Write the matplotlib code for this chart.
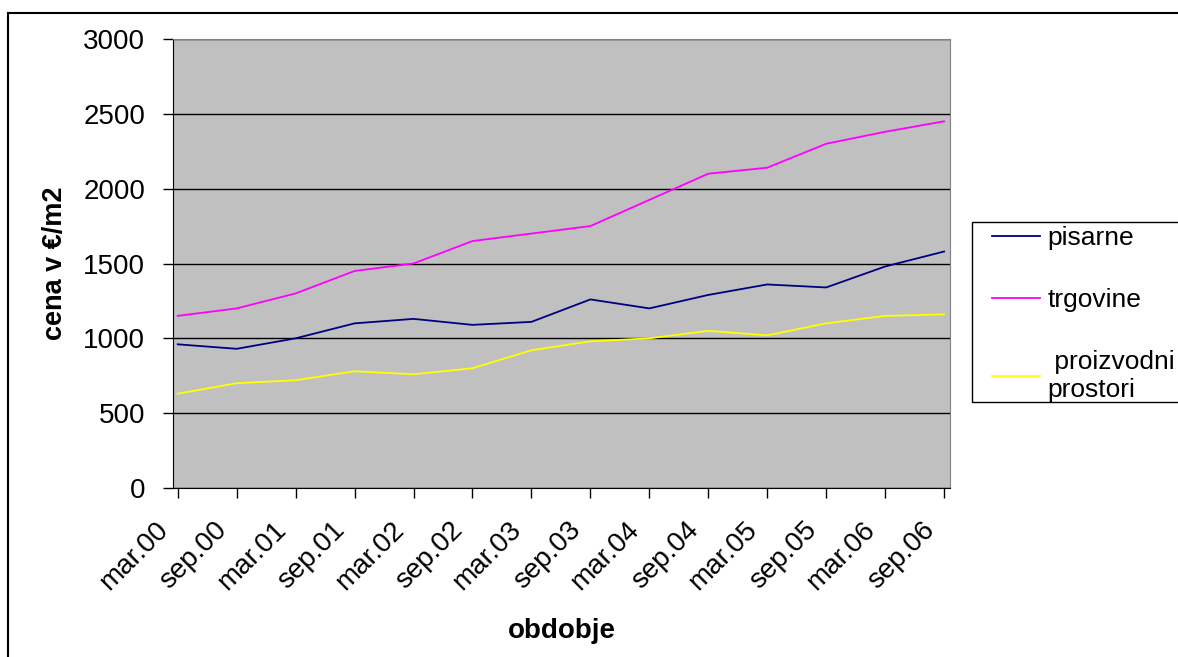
import matplotlib.pyplot as plt
import matplotlib.transforms as mtransforms
from matplotlib.lines import Line2D
from matplotlib.patches import Rectangle

periods = ['mar.00', 'sep.00', 'mar.01', 'sep.01', 'mar.02', 'sep.02', 'mar.03',
           'sep.03', 'mar.04', 'sep.04', 'mar.05', 'sep.05', 'mar.06', 'sep.06']
pisarne = [960, 930, 1000, 1100, 1130, 1090, 1110,
           1260, 1200, 1290, 1360, 1340, 1480, 1580]
trgovine = [1150, 1200, 1300, 1450, 1500, 1650, 1700,
            1750, 1925, 2100, 2140, 2300, 2380, 2450]
proizvodni = [630, 700, 720, 780, 760, 800, 920,
              980, 1000, 1050, 1020, 1100, 1150, 1160]

plt.rcParams['font.family'] = ['Liberation Sans', 'DejaVu Sans']

W, H = 1178, 657
fig = plt.figure(figsize=(W / 100, H / 100), dpi=100)
ax = fig.add_axes([173 / W, 1 - 488 / H, (950 - 173) / W, (488 - 39) / H])
ax.set_facecolor('#C0C0C0')

x = list(range(len(periods)))
ax.plot(x, pisarne, color='#000080', lw=1.3, label='pisarne')
ax.plot(x, trgovine, color='#FF00FF', lw=1.3, label='trgovine')
ax.plot(x, proizvodni, color='#FFFF00', lw=1.3, label=' proizvodni\nprostori')

ax.set_xlim(-0.08, 13.1)
ax.set_ylim(0, 3000)
ax.set_yticks(range(0, 3001, 500))
ax.yaxis.grid(True, color='black', lw=1)
ax.set_axisbelow(True)
ax.set_xticks(x)
ax.set_xticklabels(periods, rotation=45, ha='right', rotation_mode='anchor')
ax.tick_params(axis='both', labelsize=20, length=7, width=1, color='black')
ax.tick_params(axis='y', pad=13)
ax.tick_params(axis='x', pad=14)
shift = mtransforms.ScaledTranslation(-23 / 100, 0, fig.dpi_scale_trans)
for lbl in ax.get_xticklabels():
    lbl.set_transform(lbl.get_transform() + shift)

for side in ['top', 'right']:
    ax.spines[side].set_color('#808080')
ax.spines['left'].set_color('black')
ax.spines['bottom'].set_color('black')

ax.set_xlabel('obdobje', fontsize=20, fontweight='bold', labelpad=16)
ax.set_ylabel('cena v €/m2', fontsize=19.5, fontweight='bold', labelpad=11)

# legend box drawn separately so the entries can sit inset like the original
fig.add_artist(Rectangle((972 / W, 1 - 402 / H), 220 / W, 180 / H,
                         transform=fig.transFigure, facecolor='white',
                         edgecolor='black', lw=1, zorder=-1))
leg = ax.legend(loc='upper left', bbox_to_anchor=(992 / W, 1 - 226 / H),
                bbox_transform=fig.transFigure, borderaxespad=0, borderpad=0,
                frameon=False, fontsize=19, handlelength=1.82,
                handletextpad=0.27, labelspacing=1.44)

# outer chart frame
fig.add_artist(Line2D([8 / W, 8 / W], [0, 1 - 13 / H], transform=fig.transFigure,
                      color='black', lw=1.5))
fig.add_artist(Line2D([8 / W, 1], [1 - 13 / H, 1 - 13 / H], transform=fig.transFigure,
                      color='black', lw=1.5))

fig.savefig('out.png', dpi=100)
